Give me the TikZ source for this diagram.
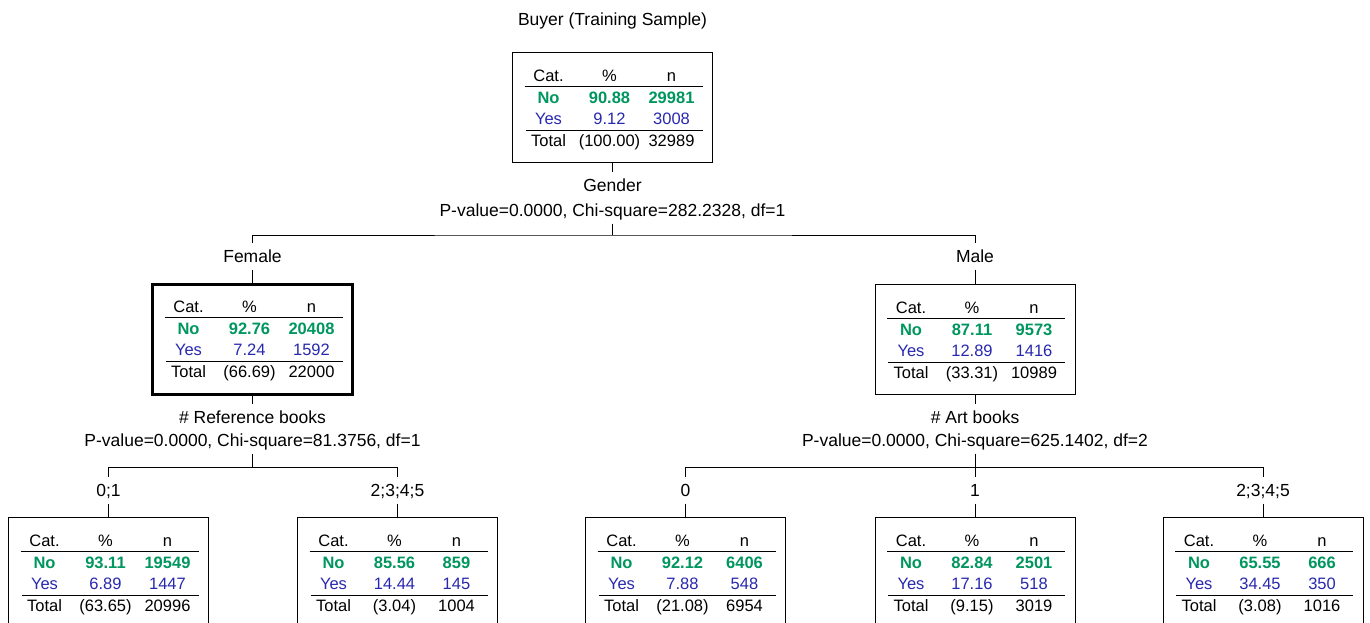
\documentclass[tikz,border=0pt]{standalone}
\usepackage{fontspec}
\setmainfont{Liberation Sans}
\definecolor{nogreen}{RGB}{0,150,95}
\definecolor{yesblue}{RGB}{40,40,175}
\tikzset{
 lbl/.style={inner sep=0pt, outer ysep=5pt, text height=15pt, text depth=2pt, font=\fontsize{17.5}{20}\selectfont},
 nodebox/.style={draw, line width=0.9pt, minimum width=200pt, minimum height=110pt, inner sep=0pt},
 sel/.style={line width=3pt},
 cell/.style={inner sep=0pt, text height=14pt, text depth=1.5pt, font=\fontsize{16.5}{19}\selectfont},
 nocell/.style={cell, text=nogreen, font=\fontsize{16.5}{19}\selectfont\bfseries},
 yescell/.style={cell, text=yesblue},
 rulel/.style={line width=1.3pt},
 conn/.style={line width=0.9pt},
}
% #1 name, #2 no%, #3 no n, #4 yes%, #5 yes n, #6 total%, #7 total n
\newcommand\ctable[7]{%
 \path (#1.north) ++(-64,24) node[cell] (#1h1) {Cat.}
   ++(61,0) node[cell] (#1h2) {\%}
   ++(62,0) node[cell] (#1h3) {n};
 \path (#1.north) ++(-64,46) node[nocell] (#1a1) {No}
   ++(61,0) node[nocell] (#1a2) {#2}
   ++(62,0) node[nocell] (#1a3) {#3};
 \path (#1.north) ++(-64,67) node[yescell] (#1b1) {Yes}
   ++(61,0) node[yescell] (#1b2) {#4}
   ++(62,0) node[yescell] (#1b3) {#5};
 \path (#1.north) ++(-64,89) node[cell] (#1c1) {Total}
   ++(61,0) node[cell] (#1c2) {#6}
   ++(62,0) node[cell] (#1c3) {#7};
 \path (#1.north) ++(-88,35) coordinate (#1r1a) ++(178,0) coordinate (#1r1b);
 \path (#1.north) ++(-87,79) coordinate (#1r2a) ++(177,0) coordinate (#1r2b);
 \draw[rulel] (#1r1a) -- (#1r1b);
 \draw[rulel] (#1r2a) -- (#1r2b);
}
\begin{document}
\begin{tikzpicture}[x=1pt,y=-1pt]
\useasboundingbox (0,0) rectangle (1370,622);
\clip (0,0) rectangle (1370,622);
% root
\node[lbl] (title) at (612.5,19) {Buyer (Training Sample)};
\node[nodebox] (root) at (612.5,107) {};
\ctable{root}{90.88}{29981}{9.12}{3008}{(100.00)}{32989}
\node[lbl] (g) at (612.5,185) {Gender};
\node[lbl] (gp) at (612.5,210) {P-value=0.0000, Chi-square=282.2328, df=1};
\coordinate (j0) at (612.5,235);
\node[lbl] (fl) at (252.5,256) {Female};
\node[lbl] (ml) at (975,256) {Male};
\node[nodebox, sel] (fem) at (252.5,339) {};
\ctable{fem}{92.76}{20408}{7.24}{1592}{(66.69)}{22000}
\node[nodebox] (male) at (975,339) {};
\ctable{male}{87.11}{9573}{12.89}{1416}{(33.31)}{10989}
% female split
\node[lbl] (rb) at (252.5,417) {\# Reference books};
\node[lbl] (rbp) at (252.5,440) {P-value=0.0000, Chi-square=81.3756, df=1};
\coordinate (j1) at (252.5,467);
\node[lbl] (la) at (108.5,490) {0;1};
\node[lbl] (lb) at (397.5,490) {2;3;4;5};
\node[nodebox] (b1) at (108.5,572) {};
\ctable{b1}{93.11}{19549}{6.89}{1447}{(63.65)}{20996}
\node[nodebox] (b2) at (397.5,572) {};
\ctable{b2}{85.56}{859}{14.44}{145}{(3.04)}{1004}
% male split
\node[lbl] (ab) at (975,417) {\# Art books};
\node[lbl] (abp) at (975,440) {P-value=0.0000, Chi-square=625.1402, df=2};
\coordinate (j2) at (975,467);
\node[lbl] (lc) at (685.5,490) {0};
\node[lbl] (ld) at (975,490) {1};
\node[lbl] (le) at (1263,490) {2;3;4;5};
\node[nodebox] (b3) at (685.5,572) {};
\ctable{b3}{92.12}{6406}{7.88}{548}{(21.08)}{6954}
\node[nodebox] (b4) at (975,572) {};
\ctable{b4}{82.84}{2501}{17.16}{518}{(9.15)}{3019}
\node[nodebox] (b5) at (1263,572) {};
\ctable{b5}{65.55}{666}{34.45}{350}{(3.08)}{1016}
% connectors
\draw[conn] (root.south) -- (g.north);
\draw[conn] (gp.south) -- (j0);
\draw[conn] (fl.north) |- (j0) -| (ml.north);
\draw[conn] (fl.south) -- (fem.north);
\draw[conn] (ml.south) -- (male.north);
\draw[conn] (fem.south) -- (rb.north);
\draw[conn] (rbp.south) -- (j1);
\draw[conn] (la.north) |- (j1) -| (lb.north);
\draw[conn] (la.south) -- (b1.north);
\draw[conn] (lb.south) -- (b2.north);
\draw[conn] (male.south) -- (ab.north);
\draw[conn] (abp.south) -- (j2);
\draw[conn] (lc.north) |- (j2) -| (le.north);
\draw[conn] (ld.north) -- (j2);
\draw[conn] (lc.south) -- (b3.north);
\draw[conn] (ld.south) -- (b4.north);
\draw[conn] (le.south) -- (b5.north);
\end{tikzpicture}
\end{document}
